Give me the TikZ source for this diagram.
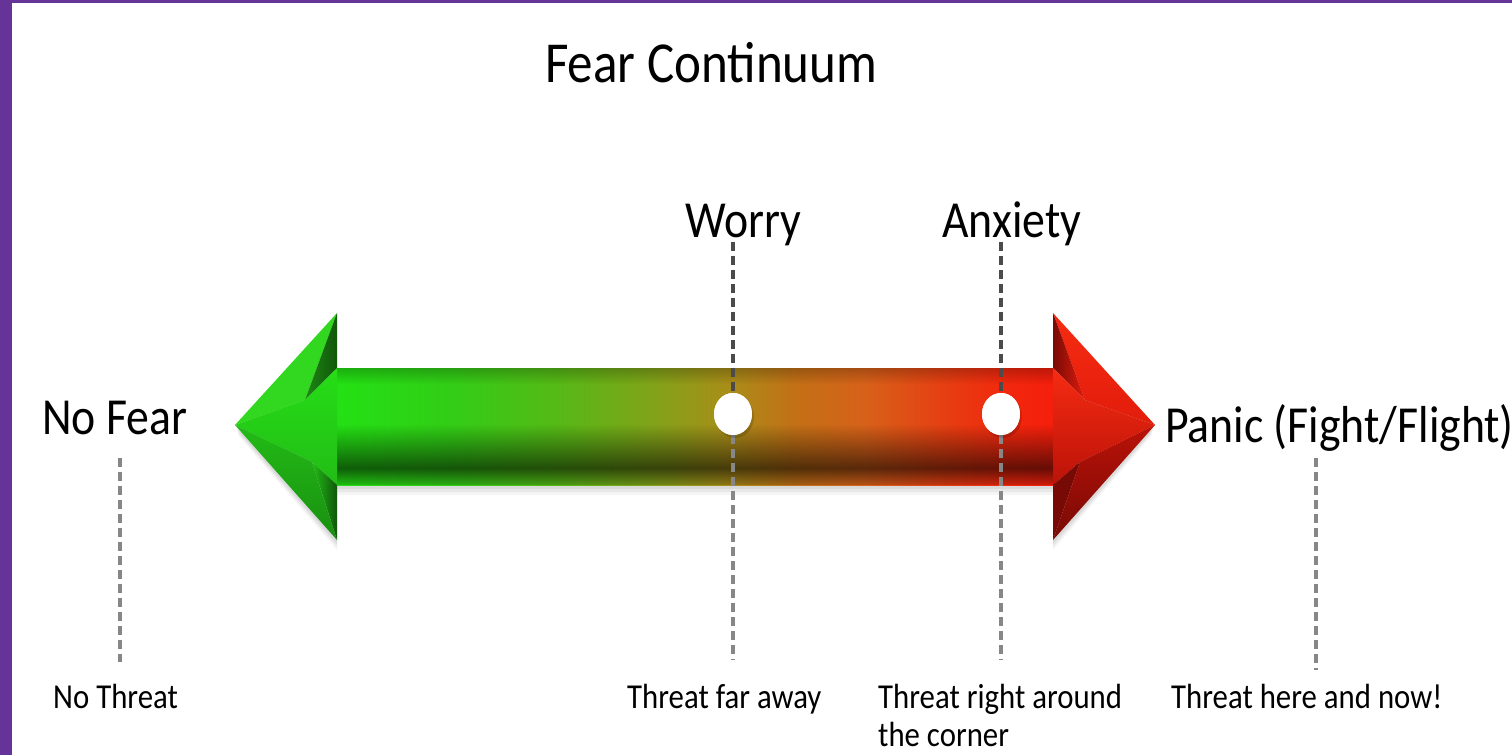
\documentclass[tikz,border=0pt]{standalone}
\usepackage{fontspec}
\setmainfont{Carlito}[FakeStretch=0.88]
\usetikzlibrary{fadings,shapes.geometric}

\definecolor{purp}{RGB}{102,51,153}
\definecolor{s0}{RGB}{35,225,20}
\definecolor{s1}{RGB}{50,205,22}
\definecolor{s2}{RGB}{85,185,22}
\definecolor{s3}{RGB}{130,162,25}
\definecolor{s4}{RGB}{168,142,25}
\definecolor{s5}{RGB}{195,112,22}
\definecolor{s6}{RGB}{215,97,25}
\definecolor{s7}{RGB}{230,62,18}
\definecolor{s8}{RGB}{242,40,14}
\definecolor{s9}{RGB}{244,30,12}
\definecolor{gUp}{RGB}{50,215,32}
\definecolor{gMid}{RGB}{38,222,22}
\definecolor{gLow}{RGB}{34,188,22}
\definecolor{gDark}{RGB}{16,86,10}
\definecolor{rUp}{RGB}{226,28,12}
\definecolor{rMid}{RGB}{246,44,18}
\definecolor{rLow}{RGB}{186,18,8}
\definecolor{rDark}{RGB}{120,10,5}
\definecolor{dashD}{RGB}{75,75,75}
\definecolor{dashL}{RGB}{135,135,135}

\pgfdeclarehorizontalshading{shaftshade}{100bp}{color(0bp)=(s0); color(25bp)=(s0);
 color(33bp)=(s1); color(40.3bp)=(s2); color(47.2bp)=(s3); color(52.1bp)=(s4);
 color(57bp)=(s5); color(61.8bp)=(s6); color(67.4bp)=(s7); color(71.5bp)=(s8);
 color(75bp)=(s9); color(100bp)=(s9)}

\tikzfading[name=fadedown, top color=transparent!78, bottom color=transparent!100]
\tikzfading[name=fademid, top color=transparent!100, middle color=transparent!55, bottom color=transparent!100]
\tikzfading[name=fadeup, top color=transparent!100, bottom color=transparent!42]
\tikzfading[name=fadereflect, top color=transparent!42, bottom color=transparent!85]

\tikzset{
  big/.style={inner sep=0pt, font=\fontsize{52}{62}\selectfont},
  title/.style={inner sep=0pt, font=\fontsize{58}{68}\selectfont},
  small/.style={inner sep=0pt, font=\fontsize{35}{38}\selectfont, align=left},
  dot/.style={ellipse, fill=white, minimum width=38pt, minimum height=42pt, inner sep=0pt},
  dashdark/.style={draw=dashD, line width=3.5pt, dash pattern=on 9pt off 5pt},
  dashlight/.style={draw=dashL, line width=3.5pt, dash pattern=on 9pt off 5pt},
}

\begin{document}
\begin{tikzpicture}[x=1pt, y=-1pt]
\useasboundingbox (0,0) rectangle (1512,755);
\fill[white] (0,0) rectangle (1512,755);
% frame
\fill[purp] (0,0) rectangle (12,755);
\fill[purp] (0,0) rectangle (1512,3);

% soft shadow of the arrow
\foreach \o/\a in {10/0.04, 7/0.05, 4/0.06}{
  \fill[black, opacity=\a] (235+\o*0.3,425+\o) -- (337,313+\o) -- (337,368+\o) -- (1053,368+\o)
    -- (1053,313+\o) -- (1155-\o*0.3,425+\o) -- (1053,540+\o) -- (1053,485+\o) -- (337,485+\o) -- (337,540+\o) -- cycle;
}

% shaft
\shade[shading=shaftshade] (335,368) rectangle (1055,485);
\fill[black, path fading=fadedown] (335,368) rectangle (1055,384);
\fill[white, path fading=fademid] (335,384) rectangle (1055,422);
\fill[black, path fading=fadeup] (335,424) rectangle (1055,468);
\fill[black, path fading=fadereflect] (335,468) rectangle (1055,485);

% left head
\fill[gUp] (235,425) -- (337,313) -- (305,400) -- cycle;
\shade[left color=gDark!60!gUp, right color=gDark] (337,313) -- (337,368) -- (305,400) -- cycle;
\shade[top color=gMid, bottom color=gLow] (235,425) -- (305,400) -- (337,368) -- (337,485) -- (312,462) -- cycle;
\shade[left color=gLow, right color=gDark] (337,540) -- (337,485) -- (312,462) -- cycle;
\shade[top color=gLow, bottom color=gDark!45!gLow] (235,425) -- (312,462) -- (337,540) -- cycle;

% right head
\shade[top color=rMid, bottom color=rUp] (1155,425) -- (1053,313) -- (1085,400) -- cycle;
\shade[left color=rDark, right color=rUp] (1053,313) -- (1053,368) -- (1085,400) -- cycle;
\shade[top color=rMid, bottom color=rLow] (1155,425) -- (1085,400) -- (1053,368) -- (1053,485) -- (1080,462) -- cycle;
\fill[rDark] (1053,540) -- (1053,485) -- (1080,462) -- cycle;
\shade[top color=rLow, bottom color=rDark] (1155,425) -- (1080,462) -- (1053,540) -- cycle;

% labels
\node[title, anchor=base west] (ttl) at (545,82) {Fear Continuum};
\node[big, anchor=base west] (worry) at (685,237) {Worry};
\node[big, anchor=base west] (anx) at (942,237) {Anxiety};
\node[big, anchor=base west] (nofear) at (42,434) {No Fear};
\node[big, anchor=base west] (panic) at (1165,442) {Panic (Fight/Flight)};
\node[small, anchor=base west] (nothreat) at (53,708) {No Threat};
\node[small, anchor=base west] (far) at (627,708) {Threat far away};
\node[small, anchor=base west] (around) at (878,746) {Threat right around\\the corner};
\node[small, anchor=base west] (now) at (1171,708) {Threat here and now!};

% markers
\node[dot] (wc) at (733,414) {};
\node[dot] (ac) at (1001,414) {};
\coordinate (wtop) at (733,242);
\coordinate (wbot) at (733,660);
\coordinate (atop) at (1001,242);
\coordinate (abot) at (1001,660);
\coordinate (ntop) at (120,458);
\coordinate (nbot) at (120,662);
\coordinate (ptop) at (1316,458);
\coordinate (pbot) at (1316,670);

\draw[dashdark] (wtop) -- (wc.north);
\draw[dashlight] (wc.south) -- (wbot);
\draw[dashdark] (atop) -- (ac.north);
\draw[dashlight] (ac.south) -- (abot);
\draw[dashlight] (ntop) -- (nbot);
\draw[dashlight] (ptop) -- (pbot);

% circle shadows and circles on top
\fill[black, opacity=0.15] (735,417) ellipse [x radius=19, y radius=21];
\fill[black, opacity=0.15] (1003,417) ellipse [x radius=19, y radius=21];
\node[dot] at (wc) {};
\node[dot] at (ac) {};
\end{tikzpicture}
\end{document}
